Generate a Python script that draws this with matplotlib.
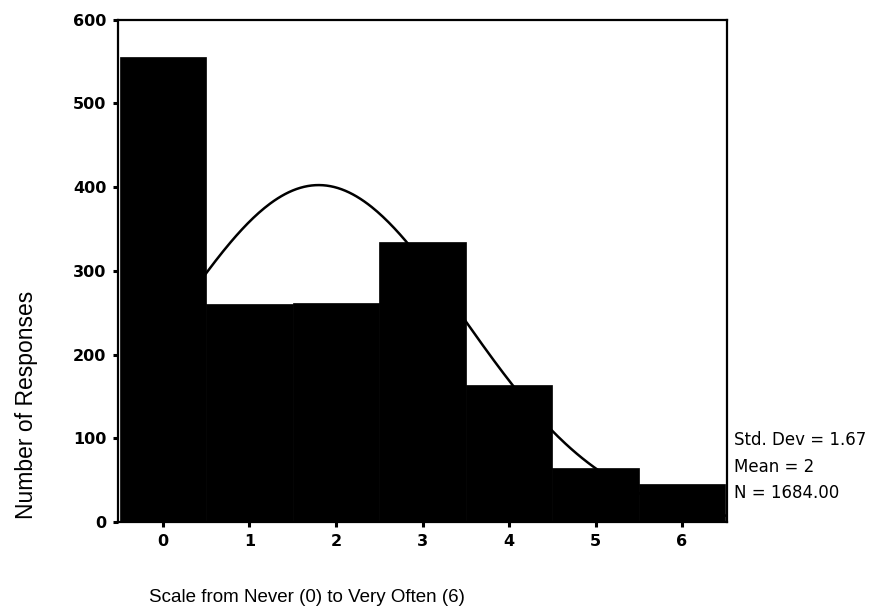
import numpy as np
import matplotlib
matplotlib.use("Agg")
import matplotlib.pyplot as plt

# histogram of responses (counts)
scale_pts = [0, 1, 2, 3, 4, 5, 6]
counts = [555, 260, 262, 334, 163, 65, 45]

# fitted normal curve parameters
std_dev = 1.67
mean_fit = 1.80
n_resp = 1684.00
stat_lines = ["Std. Dev = 1.67", "Mean = 2", "N = 1684.00"]

plt.rcParams['font.family'] = ['Liberation Sans', 'DejaVu Sans']

fig = plt.figure(figsize=(8.71, 6.11), dpi=100)
ax = fig.add_axes([118/871, 1 - 522/611, (727 - 118)/871, (522 - 19.5)/611])

# normal curve goes behind the bars
xs = np.linspace(0, 6.5, 300)
ys = n_resp / (std_dev * np.sqrt(2 * np.pi)) * np.exp(-0.5 * ((xs - mean_fit) / std_dev) ** 2)
ax.plot(xs, ys, color='black', lw=1.8, zorder=1)

ax.bar(scale_pts, counts, width=1.0, color='black', edgecolor='black', lw=0.5, zorder=2)

ax.set_xlim(-0.52, 6.52)
ax.set_ylim(0, 600)
ax.set_xticks(scale_pts)
ax.set_yticks([0, 100, 200, 300, 400, 500, 600])
ax.tick_params(axis='both', direction='out', length=3.5, width=2.2, labelsize=11.5, pad=5)
for lab in ax.get_xticklabels() + ax.get_yticklabels():
    lab.set_fontweight('bold')
    lab.set_family('DejaVu Sans')
for sp in ax.spines.values():
    sp.set_linewidth(1.6)
    sp.set_zorder(3)

fig.text(27/871, 1 - 405/611, "Number of Responses", rotation=90,
         ha='center', va='center', fontsize=16.5)
fig.text(149/871, 1 - 598/611, "Scale from Never (0) to Very Often (6)",
         ha='left', va='center', fontsize=13.5)

for i, s in enumerate(stat_lines):
    fig.text(734/871, 1 - (440 + 26.5*i)/611, s, ha='left', va='center',
             fontsize=12, family='DejaVu Sans')

fig.savefig("out.png", dpi=100)
